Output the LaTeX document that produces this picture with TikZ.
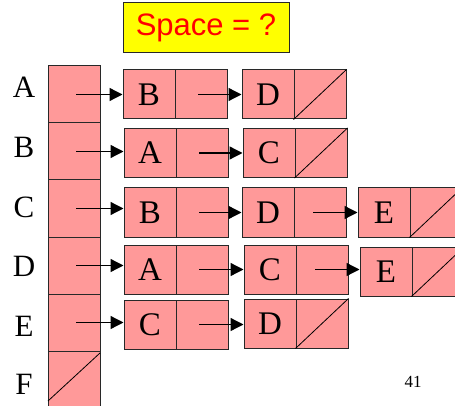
\documentclass[tikz,border=0pt]{standalone}
\usepackage{fontspec}
\setmainfont{Liberation Serif}
\newfontfamily\arialfont{Liberation Sans}
\usetikzlibrary{arrows.meta}
\definecolor{cellpink}{RGB}{255,153,153}
\definecolor{titleyellow}{RGB}{255,255,0}
\definecolor{titlered}{RGB}{255,0,0}
\definecolor{edgegray}{RGB}{40,40,40}
\tikzset{
  cell/.style={draw=edgegray, fill=cellpink, line width=1pt, inner sep=0pt,
    minimum width=52pt, minimum height=49pt,
    font=\fontsize{33}{38}\selectfont},
  arrcell/.style={cell, minimum height=57pt},
  rowlabel/.style={inner sep=0pt, font=\fontsize{31}{36}\selectfont},
  link/.style={line width=1.3pt, -{Triangle[length=13pt,width=13pt]}},
  nullslash/.style={line width=0.8pt}
}
\begin{document}
\begin{tikzpicture}[x=1pt,y=-1pt]
\useasboundingbox (0,0) rectangle (455,406);
% title
\node[draw=edgegray, fill=titleyellow, line width=1pt, minimum width=166pt, minimum height=50pt, inner sep=0pt,
  text=titlered, font=\arialfont\fontsize{31}{36}\selectfont] (title) at (206,28) {Space = ?};
% array
\node[arrcell] (arr1) at (74,94.5) {};
\node[arrcell] (arr2) at (74,151.5) {};
\node[arrcell] (arr3) at (74,208.5) {};
\node[arrcell] (arr4) at (74,265.5) {};
\node[arrcell] (arr5) at (74,322.5) {};
\node[arrcell] (arr6) at (74,379.5) {};
\draw[nullslash] (48,401) -- (100,353);
% labels
\node[rowlabel] (lA) at (24,87) {A};
\node[rowlabel] (lB) at (24,147) {B};
\node[rowlabel] (lC) at (24,207) {C};
\node[rowlabel] (lD) at (24,266) {D};
\node[rowlabel] (lE) at (24,326) {E};
\node[rowlabel] (lF) at (24,384) {F};
% row A
\node[cell] (a1d) at (149,94.5) {B};
\node[cell] (a1p) at (201,94.5) {};
\node[cell] (a2d) at (268,94.5) {D};
\node[cell] (a2p) at (320,94.5) {};
\draw[nullslash] (a2p.south west) -- (a2p.north east);
% row B
\node[cell] (b1d) at (150,153) {A};
\node[cell] (b1p) at (202,153) {};
\node[cell] (b2d) at (269,153) {C};
\node[cell] (b2p) at (321,153) {};
\draw[nullslash] (b2p.south west) -- (b2p.north east);
% row C
\node[cell] (c1d) at (150,212.5) {B};
\node[cell] (c1p) at (202,212.5) {};
\node[cell] (c2d) at (268,212.5) {D};
\node[cell] (c2p) at (320,212.5) {};
\node[cell] (c3d) at (384,212.5) {E};
\node[cell] (c3p) at (436,212.5) {};
\draw[nullslash] (c3p.south west) -- (c3p.north east);
% row D
\node[cell] (d1d) at (150,269.5) {A};
\node[cell] (d1p) at (202,269.5) {};
\node[cell] (d2d) at (270,269.5) {C};
\node[cell] (d2p) at (322,269.5) {};
\node[cell] (d3d) at (386,271.5) {E};
\node[cell] (d3p) at (438,271.5) {};
\draw[nullslash] (d3p.south west) -- (d3p.north east);
% row E
\node[cell] (e1d) at (150,324.5) {C};
\node[cell] (e1p) at (202,324.5) {};
\node[cell] (e2d) at (270,323.5) {D};
\node[cell] (e2p) at (322,323.5) {};
\draw[nullslash] (e2p.south west) -- (e2p.north east);
% links from array
\draw[link] ([xshift=2pt]arr1.center) -- (arr1.center -| a1d.west);
\draw[link] ([xshift=2pt]arr2.center) -- (arr2.center -| b1d.west);
\draw[link] ([xshift=2pt]arr3.center) -- (arr3.center -| c1d.west);
\draw[link] ([xshift=2pt]arr4.center) -- (arr4.center -| d1d.west);
\draw[link] ([xshift=2pt]arr5.center) -- (arr5.center -| e1d.west);
% links between list nodes
\draw[link] ([xshift=-3pt]a1p.center) -- (a1p.center -| a2d.west);
\draw[link] ([xshift=-3pt]b1p.center) -- (b1p.center -| b2d.west);
\draw[link] ([xshift=-3pt]c1p.center) -- (c1p.center -| c2d.west);
\draw[link] ([xshift=-7pt]c2p.center) -- (c2p.center -| c3d.west);
\draw[link] ([xshift=-3pt]d1p.center) -- (d1p.center -| d2d.west);
\draw[link] ([xshift=-7pt]d2p.center) -- (d2p.center -| d3d.west);
\draw[link] ([xshift=-3pt]e1p.center) -- (e1p.center -| e2d.west);
% page number
\node[inner sep=0pt, font=\fontsize{17}{20}\selectfont] (pagenum) at (413,382) {41};
\end{tikzpicture}
\end{document}
